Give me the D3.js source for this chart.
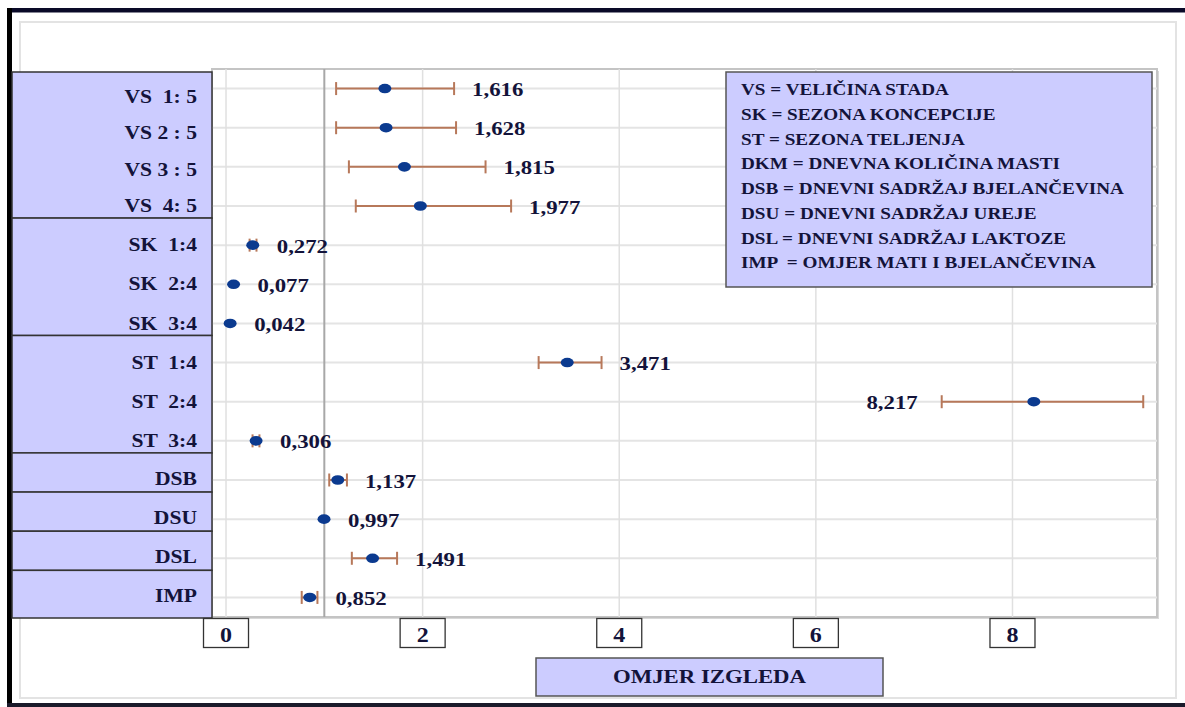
<!DOCTYPE html>
<html><head><meta charset="utf-8">
<script src="https://cdn.jsdelivr.net/npm/d3@7"></script>
<style>body{margin:0;background:#fff}svg{display:block}text{white-space:pre}</style>
</head><body><svg id="c" width="1185" height="707"></svg>
<script>
// ---- data ----
const categories = ["VS  1: 5","VS 2 : 5","VS 3 : 5","VS  4: 5","SK  1:4","SK  2:4","SK  3:4","ST  1:4","ST  2:4","ST  3:4","DSB","DSU","DSL","IMP"];
const groups     = ["VS","VS","VS","VS","SK","SK","SK","ST","ST","ST","DSB","DSU","DSL","IMP"];
const oddsRatio  = [1.616,1.628,1.815,1.977,0.272,0.077,0.042,3.471,8.217,0.306,1.137,0.997,1.491,0.852];
const ciLower    = [1.12,1.12,1.25,1.32,0.24,null,null,3.18,7.28,0.27,1.05,null,1.28,0.77];
const ciUpper    = [2.32,2.34,2.64,2.90,0.31,null,null,3.82,9.33,0.34,1.23,null,1.74,0.93];
const xTicks     = [0,2,4,6,8];
const referenceValue = 1;
const legendLines = ["VS = VELIČINA STADA","SK = SEZONA KONCEPCIJE","ST = SEZONA TELJENJA","DKM = DNEVNA KOLIČINA MASTI","DSB = DNEVNI SADRŽAJ BJELANČEVINA","DSU = DNEVNI SADRŽAJ UREJE","DSL = DNEVNI SADRŽAJ LAKTOZE","IMP  = OMJER MATI I BJELANČEVINA"];
const axisTitle = "OMJER IZGLEDA";

// ---- layout ----
const svg = d3.select("#c");
const P = {left:212, right:1157, top:69, bottom:617};
const FONT = "'Liberation Serif','Times New Roman',serif";
const INK = "#13133a";
const LAV = "#ccccff";
const SX = 1.2;

const x = d3.scaleLinear().domain([-0.1425, 9.47]).range([P.left, P.right]);
const y = d3.scaleBand().domain(categories).range([P.top, P.bottom]).padding(0);
const yc = c => y(c) + y.bandwidth()/2;
const fmt = v => d3.format(".3f")(v).replace(".", ",");

function txt(g, s, tx, ty, size, anchor, sx) {
  return g.append("text").attr("transform", `translate(${tx},${ty}) scale(${sx||SX},1)`)
    .attr("text-anchor", anchor||"start").attr("font-family", FONT).attr("font-weight","bold")
    .attr("font-size", size).attr("fill", INK).text(s);
}

// outer frame
svg.append("rect").attr("x",20).attr("y",22).attr("width",1156).attr("height",676)
  .attr("fill","none").attr("stroke","#e3e3e3").attr("stroke-width",2);
svg.append("rect").attr("x",7).attr("y",8).attr("width",1178).attr("height",4.5).attr("fill","#0a0a28");
svg.append("rect").attr("x",7).attr("y",8).attr("width",5).attr("height",699).attr("fill","#000");
svg.append("rect").attr("x",7).attr("y",703).attr("width",1178).attr("height",4).attr("fill","#1a1a2a");

// plot area
svg.append("rect").attr("x",P.left+2).attr("y",P.top+2).attr("width",P.right-P.left).attr("height",P.bottom-P.top)
  .attr("fill","#d8d8d8");
svg.append("rect").attr("x",P.left).attr("y",P.top).attr("width",P.right-P.left).attr("height",P.bottom-P.top)
  .attr("fill","#fff").attr("stroke","#c4c4c4").attr("stroke-width",2);

// grid
const grid = svg.append("g");
grid.selectAll("line.h").data(categories).join("line")
  .attr("x1",P.left).attr("x2",P.right).attr("y1",d=>yc(d)).attr("y2",d=>yc(d))
  .attr("stroke","#e4e4e4").attr("stroke-width",2);
grid.selectAll("line.v").data(xTicks).join("line")
  .attr("x1",d=>x(d)).attr("x2",d=>x(d)).attr("y1",P.top).attr("y2",P.bottom)
  .attr("stroke","#e0e0e0").attr("stroke-width",1.5);
grid.append("line").attr("x1",x(referenceValue)).attr("x2",x(referenceValue))
  .attr("y1",P.top).attr("y2",P.bottom).attr("stroke","#a8a8a8").attr("stroke-width",2);

// label panel
const groupNames = Array.from(new Set(groups));
const panel = svg.append("g");
groupNames.forEach((gname, gi) => {
  const idx = groups.map((g,i)=>g===gname?i:-1).filter(i=>i>=0);
  const first = idx[0], last = idx[idx.length-1];
  const top = first === 0 ? 72 : y(categories[first]) - 7.5;
  const bot = last === categories.length-1 ? 618 : y(categories[last]) + y.step() - 7.5;
  panel.append("rect").attr("x",12).attr("y",top).attr("width",P.left-12).attr("height",bot-top)
    .attr("fill",LAV).attr("stroke","#333").attr("stroke-width",1.5);
  idx.forEach((i,k) => {
    const by = idx.length > 1 ? top + (bot-top)*(k+1)/idx.length - 6 : yc(categories[i]) + 5;
    txt(panel, categories[i], 197, by, 18, "end");
  });
});

// error bars, points, labels
const marks = svg.append("g");
const ERR = "#b7785a";
categories.forEach((c,i) => {
  const cy = yc(c), v = oddsRatio[i], lo = ciLower[i], hi = ciUpper[i];
  if (lo != null) {
    marks.append("line").attr("x1",x(lo)).attr("x2",x(hi)).attr("y1",cy).attr("y2",cy)
      .attr("stroke",ERR).attr("stroke-width",2);
    [lo,hi].forEach(e => marks.append("line").attr("x1",x(e)).attr("x2",x(e))
      .attr("y1",cy-6.5).attr("y2",cy+6.5).attr("stroke",ERR).attr("stroke-width",2));
  }
  marks.append("ellipse").attr("cx",x(v)).attr("cy",cy).attr("rx",6.5).attr("ry",4.8).attr("fill","#0b3a8f");
  const right = Math.max(hi != null ? x(hi) : x(v), x(v)+6);
  if (right + 18 + 60 > P.right) {
    txt(marks, fmt(v), x(lo != null ? lo : v) - 24, cy + 7.5, 19, "end");
  } else {
    txt(marks, fmt(v), right + 18, cy + 7.5, 19, "start");
  }
});

// x tick boxes
const ticks = svg.append("g");
xTicks.forEach(t => {
  ticks.append("rect").attr("x",x(t)-22.5).attr("y",618.5).attr("width",45).attr("height",29)
    .attr("fill","#fff").attr("stroke","#333").attr("stroke-width",1.3);
  txt(ticks, String(t), x(t), 642, 20, "middle");
});

// axis title
svg.append("rect").attr("x",536).attr("y",658).attr("width",347).attr("height",38)
  .attr("fill",LAV).attr("stroke","#555").attr("stroke-width",1.5);
txt(svg, axisTitle, 709.5, 683, 19, "middle");

// legend
const leg = svg.append("g");
leg.append("rect").attr("x",726).attr("y",72).attr("width",426).attr("height",215)
  .attr("fill",LAV).attr("stroke","#555").attr("stroke-width",1.5);
legendLines.forEach((s,i) => txt(leg, s, 741, 95 + 24.75*i, 16, "start", 1.2));
</script></body></html>
